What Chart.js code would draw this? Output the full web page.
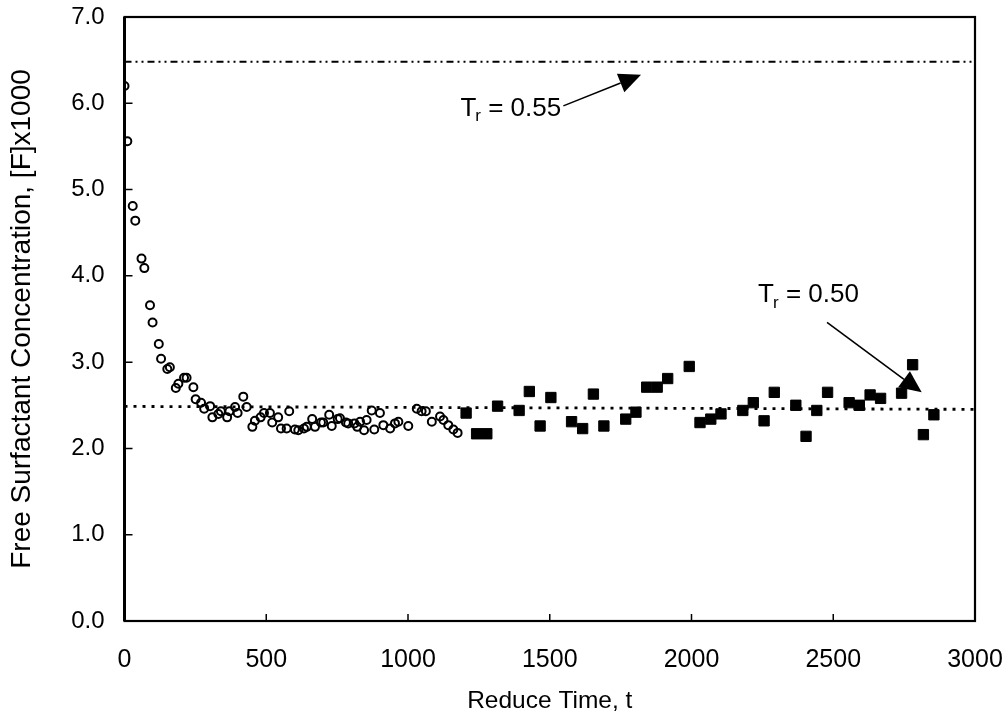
<!doctype html>
<html lang="en">
<head>
    <meta charset="utf-8" />
    <title>Free Surfactant Concentration</title>
    <script src="https://cdn.jsdelivr.net/npm/chart.js"></script>
    <style>
        html, body { margin: 0; padding: 0; background: #fff; }
        #wrap { width: 1008px; height: 721px; }
    </style>
</head>
<body>
    <div id="wrap"><canvas id="chartF" width="1008" height="721"></canvas></div>
    <script>
        // open circles: early transient
        const circleT = [0, 10, 29, 38, 60, 70, 90, 99, 121, 129, 151, 160, 181, 190, 210, 219, 243, 251, 270, 281,
            302, 310, 331, 340, 362, 370, 390, 399, 419, 431, 451, 460, 480, 492, 513, 521, 542, 552, 572, 581,
            601, 613, 633, 643, 662, 672, 693, 701, 722, 731, 752, 760, 781, 789, 811, 821, 831, 845, 854, 872,
            881, 901, 913, 937, 954, 966, 1001, 1031, 1048, 1063, 1084, 1113, 1125, 1142, 1160, 1175];
        const circleF = [6.20, 5.56, 4.81, 4.64, 4.20, 4.09, 3.66, 3.46, 3.21, 3.04, 2.92, 2.94, 2.70, 2.75, 2.82, 2.82, 2.71, 2.57, 2.53, 2.46,
            2.49, 2.36, 2.40, 2.43, 2.36, 2.43, 2.48, 2.41, 2.60, 2.48, 2.25, 2.32, 2.36, 2.41, 2.41, 2.30, 2.36, 2.23, 2.23, 2.43,
            2.22, 2.21, 2.23, 2.25, 2.34, 2.25, 2.30, 2.30, 2.39, 2.26, 2.34, 2.35, 2.30, 2.29, 2.29, 2.25, 2.31, 2.21, 2.33, 2.44,
            2.22, 2.41, 2.27, 2.23, 2.29, 2.31, 2.26, 2.46, 2.43, 2.43, 2.31, 2.37, 2.33, 2.27, 2.22, 2.18];

        // filled squares: later samples
        const squareT = [1205, 1242, 1278, 1316, 1392, 1428, 1466, 1504, 1577, 1616, 1654, 1691, 1768, 1804, 1842, 1879,
            1916, 1992, 2030, 2068, 2104, 2181, 2218, 2256, 2292, 2368, 2404, 2442, 2480, 2556, 2592, 2630, 2667,
            2741, 2780, 2818, 2855];
        const squareF = [2.41, 2.17, 2.17, 2.49, 2.44, 2.66, 2.26, 2.59, 2.31, 2.23, 2.63, 2.26, 2.34, 2.42, 2.71, 2.71,
            2.81, 2.95, 2.30, 2.34, 2.40, 2.44, 2.53, 2.32, 2.65, 2.50, 2.14, 2.44, 2.65, 2.53, 2.50, 2.62, 2.58,
            2.64, 2.97, 2.16, 2.39];

        // reference levels
        const levelT = [0, 3000];
        const levelTr055 = [6.48, 6.48];
        const levelTr050 = [2.487, 2.453];

        // annotations (text anchor, arrow start, arrow tip) in data units
        const notes = [
            { sub: 'r', value: ' = 0.55', at: [1185, 5.94], from: [1548, 5.97], to: [1822, 6.33] },
            { sub: 'r', value: ' = 0.50', at: [2235, 3.78], from: [2478, 3.46], to: [2812, 2.65] }
        ];

        const xTicks = [0, 500, 1000, 1500, 2000, 2500, 3000];
        const yTicks = [0, 1, 2, 3, 4, 5, 6, 7];

        function toPoints(xs, ys) {
            return xs.map((x, i) => ({ x: x, y: ys[i] }));
        }

        const FONT = '"Liberation Sans", Arial, Helvetica, sans-serif';

        function noPad(s) {
            s.paddingTop = 0;
            s.paddingBottom = 0;
            s.paddingLeft = 0;
            s.paddingRight = 0;
        }

        const framePlugin = {
            id: 'frame',
            afterDatasetsDraw(chart) {
                const { ctx, chartArea: a, scales } = chart;
                ctx.save();
                ctx.strokeStyle = '#000';
                ctx.lineWidth = 2.2;
                ctx.strokeRect(a.left, a.top, a.right - a.left, a.bottom - a.top);
                // heavier left axis
                ctx.lineWidth = 3;
                ctx.beginPath();
                ctx.moveTo(a.left, a.top);
                ctx.lineTo(a.left, a.bottom);
                ctx.stroke();
                // inward tick marks
                ctx.lineWidth = 1.5;
                ctx.beginPath();
                for (const v of yTicks) {
                    const y = scales.y.getPixelForValue(v);
                    ctx.moveTo(a.left, y);
                    ctx.lineTo(a.left + 8, y);
                }
                for (const v of xTicks) {
                    const x = scales.x.getPixelForValue(v);
                    ctx.moveTo(x, a.bottom);
                    ctx.lineTo(x, a.bottom - 7);
                }
                ctx.stroke();

                // annotations
                ctx.fillStyle = '#000';
                ctx.textBaseline = 'middle';
                for (const n of notes) {
                    let x = scales.x.getPixelForValue(n.at[0]);
                    const y = scales.y.getPixelForValue(n.at[1]);
                    ctx.font = '26px ' + FONT;
                    ctx.fillText('T', x, y);
                    x += ctx.measureText('T').width - 1;
                    ctx.font = '17px ' + FONT;
                    ctx.fillText(n.sub, x, y + 8);
                    x += ctx.measureText(n.sub).width;
                    ctx.font = '26px ' + FONT;
                    ctx.fillText(n.value, x, y);

                    const x0 = scales.x.getPixelForValue(n.from[0]);
                    const y0 = scales.y.getPixelForValue(n.from[1]);
                    const x1 = scales.x.getPixelForValue(n.to[0]);
                    const y1 = scales.y.getPixelForValue(n.to[1]);
                    const ang = Math.atan2(y1 - y0, x1 - x0);
                    const len = 22, half = 10;
                    const bx = x1 - len * Math.cos(ang), by = y1 - len * Math.sin(ang);
                    ctx.lineWidth = 1.6;
                    ctx.beginPath();
                    ctx.moveTo(x0, y0);
                    ctx.lineTo(bx, by);
                    ctx.stroke();
                    ctx.beginPath();
                    ctx.moveTo(x1, y1);
                    ctx.lineTo(bx + half * Math.sin(ang), by - half * Math.cos(ang));
                    ctx.lineTo(bx - half * Math.sin(ang), by + half * Math.cos(ang));
                    ctx.closePath();
                    ctx.fill();
                }
                ctx.restore();
            }
        };

        const ctx = document.getElementById('chartF');
        const myChart = new Chart(ctx, {
            type: 'scatter',
            data: {
                datasets: [
                    {
                        label: 'Tr = 0.55',
                        type: 'line',
                        data: toPoints(levelT, levelTr055),
                        borderColor: '#000',
                        borderWidth: 2,
                        borderDash: [7, 4, 2, 4, 2, 4],
                        pointRadius: 0,
                        fill: false
                    },
                    {
                        label: 'Tr = 0.50',
                        type: 'line',
                        data: toPoints(levelT, levelTr050),
                        borderColor: '#000',
                        borderWidth: 2.8,
                        borderDash: [3, 6],
                        pointRadius: 0,
                        fill: false
                    },
                    {
                        label: 'early',
                        data: toPoints(circleT, circleF),
                        pointStyle: 'circle',
                        pointRadius: 4,
                        borderWidth: 2,
                        borderColor: '#000',
                        backgroundColor: 'rgba(0,0,0,0)'
                    },
                    {
                        label: 'late',
                        data: toPoints(squareT, squareF),
                        pointStyle: 'rect',
                        pointRadius: 7.3,
                        borderWidth: 1,
                        borderColor: '#000',
                        backgroundColor: '#000'
                    }
                ]
            },
            options: {
                responsive: false,
                animation: false,
                layout: { padding: { left: 0, top: 17, right: 33, bottom: 0 } },
                plugins: {
                    legend: { display: false },
                    tooltip: { enabled: false }
                },
                scales: {
                    x: {
                        type: 'linear',
                        min: 0,
                        max: 3000,
                        afterFit: (s) => { s.height = 100; noPad(s); },
                        afterBuildTicks: (s) => { s.ticks = xTicks.map(v => ({ value: v })); },
                        grid: { display: false, drawTicks: false },
                        border: { display: false },
                        ticks: {
                            padding: 24,
                            color: '#000',
                            font: { family: FONT, size: 25 },
                            callback: (v) => String(v)
                        },
                        title: {
                            display: true,
                            text: 'Reduce Time, t',
                            color: '#000',
                            font: { family: FONT, size: 24.5 },
                            padding: { top: 0, bottom: 5 }
                        }
                    },
                    y: {
                        min: 0,
                        max: 7,
                        afterFit: (s) => { s.width = 124.5; noPad(s); },
                        afterBuildTicks: (s) => { s.ticks = yTicks.map(v => ({ value: v })); },
                        grid: { display: false, drawTicks: false },
                        border: { display: false },
                        ticks: {
                            padding: 20,
                            color: '#000',
                            font: { family: FONT, size: 24 },
                            callback: (v) => v.toFixed(1)
                        },
                        title: {
                            display: true,
                            text: 'Free Surfactant Concentration, [F]x1000',
                            color: '#000',
                            font: { family: FONT, size: 28 },
                            padding: { top: 5, bottom: 0 }
                        }
                    }
                }
            },
            plugins: [framePlugin]
        });
    </script>
</body>
</html>
